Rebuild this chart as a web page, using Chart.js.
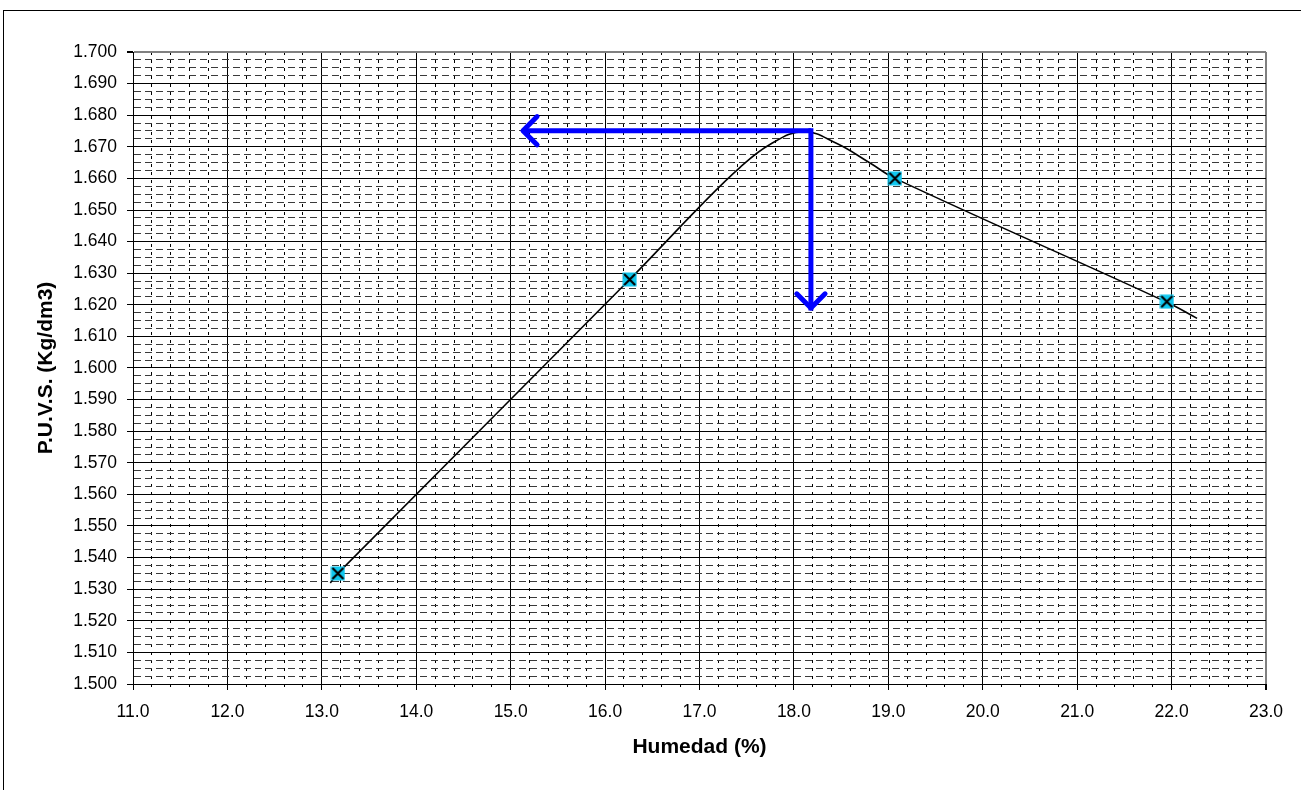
<!DOCTYPE html>
<html>
<head>
<meta charset="utf-8">
<title>Humedad vs P.U.V.S.</title>
<script src="https://cdn.jsdelivr.net/npm/chart.js@4.4.1/dist/chart.umd.min.js"></script>
<style>
  html, body { margin: 0; padding: 0; background: #fff; overflow: hidden; }
  #marco { position: absolute; left: 3px; top: 10px; width: 1400px; height: 900px; border: 1px solid #000; pointer-events: none; }
  #grafico { position: absolute; left: 0; top: 0; }
</style>
</head>
<body>
<div id="marco"></div>
<canvas id="grafico" width="1301" height="790"></canvas>
<script>
// puntos del ensayo
const humedad = [13.17, 16.26, 19.07, 21.95];
const puvs = [1.535, 1.628, 1.660, 1.621];

// curva de ajuste
const curvaHumedad = [13.09, 13.17, 16.26, 17.00, 17.43, 17.75, 18.10, 18.45, 18.81, 19.07, 21.95, 22.27];
const curvaPuvs = [1.532, 1.535, 1.628, 1.651, 1.6635, 1.6708, 1.6748, 1.6711, 1.6648, 1.660, 1.6208, 1.6157];

// flechas: humedad optima / densidad maxima
const humedadOptima = 18.18;
const puvsMaximo = 1.6751;
const flechaHumedadFin = 15.13;
const flechaPuvsFin = 1.619;

// ejes
const xRango = [11, 23];
const xPaso = 1;
const xPasoMenor = 0.2;
const yRango = [1.5, 1.7];
const yPaso = 0.01;
const yPasoMenor = 0.0025;

const familia = '"Liberation Sans", Arial, sans-serif';
const fuenteTicks = { family: familia, size: 17.5 };
const fuenteTitulo = { family: familia, size: 21, weight: 'bold' };

function esMayor(v, paso) {
    return Math.abs(v / paso - Math.round(v / paso)) < 1e-6;
}
function esBorde(v, max) {
    return Math.abs(v - max) < 1e-9;
}

function marcador() {
    const c = document.createElement('canvas');
    c.width = 15;
    c.height = 15;
    const g = c.getContext('2d');
    g.fillStyle = '#10C8F0';
    g.fillRect(0.5, 0.5, 14, 14);
    g.strokeStyle = '#000';
    g.lineWidth = 2.2;
    g.beginPath();
    g.moveTo(2, 2); g.lineTo(13, 13);
    g.moveTo(13, 2); g.lineTo(2, 13);
    g.stroke();
    return c;
}

const puntasFlecha = {
    id: 'puntasFlecha',
    afterDatasetsDraw(chart) {
        const ctx = chart.ctx;
        chart.data.datasets.forEach(function (ds, i) {
            if (!ds.flecha) return;
            const pts = chart.getDatasetMeta(i).data;
            const a = pts[pts.length - 2], b = pts[pts.length - 1];
            const ang = Math.atan2(b.y - a.y, b.x - a.x);
            const largo = 20;
            ctx.save();
            ctx.strokeStyle = ds.borderColor;
            ctx.lineWidth = 5;
            ctx.lineCap = 'round';
            ctx.beginPath();
            [-1, 1].forEach(function (s) {
                ctx.moveTo(b.x, b.y);
                ctx.lineTo(b.x - largo * Math.cos(ang + s * Math.PI / 4), b.y - largo * Math.sin(ang + s * Math.PI / 4));
            });
            ctx.stroke();
            ctx.restore();
        });
    }
};

document.addEventListener('DOMContentLoaded', function () {
    const ctx = document.getElementById('grafico');
    new Chart(ctx, {
        type: 'scatter',
        data: {
            datasets: [{
                label: 'Ensayo',
                data: humedad.map((h, i) => ({ x: h, y: puvs[i] })),
                pointStyle: marcador(),
                pointRadius: 7,
                showLine: false,
                order: 0
            }, {
                label: 'Curva',
                data: curvaHumedad.map((h, i) => ({ x: h, y: curvaPuvs[i] })),
                showLine: true,
                borderColor: '#000',
                borderWidth: 1.6,
                pointRadius: 0,
                tension: 0.4,
                order: 2
            }, {
                label: 'Flecha densidad',
                data: [{ x: humedadOptima, y: puvsMaximo }, { x: flechaHumedadFin, y: puvsMaximo }],
                showLine: true,
                borderColor: '#0000FF',
                borderWidth: 5,
                borderCapStyle: 'butt',
                pointRadius: 0,
                flecha: true,
                order: 1
            }, {
                label: 'Flecha humedad',
                data: [{ x: humedadOptima, y: puvsMaximo }, { x: humedadOptima, y: flechaPuvsFin }],
                showLine: true,
                borderColor: '#0000FF',
                borderWidth: 5,
                borderCapStyle: 'square',
                pointRadius: 0,
                flecha: true,
                order: 1
            }]
        },
        options: {
            responsive: false,
            animation: false,
            layout: { padding: { left: 0, right: 35, top: 52, bottom: 0 } },
            plugins: {
                legend: { display: false },
                tooltip: { enabled: false }
            },
            scales: {
                x: {
                    type: 'linear',
                    min: xRango[0],
                    max: xRango[1],
                    ticks: {
                        stepSize: xPasoMenor,
                        autoSkip: false,
                        maxRotation: 0,
                        padding: 11.5,
                        color: '#000',
                        font: fuenteTicks,
                        callback: v => esMayor(v, xPaso) ? v.toFixed(1) : ''
                    },
                    grid: {
                        color: c => (c.tick && esBorde(c.tick.value, xRango[1])) ? '#808080' : '#000',
                        lineWidth: c => (c.tick && esBorde(c.tick.value, xRango[1])) ? 2 : 1,
                        tickLength: 6,
                        tickColor: '#000',
                        tickBorderDash: c => (c.tick && !esMayor(c.tick.value, xPaso)) ? [2, 20] : []
                    },
                    border: {
                        color: '#000',
                        width: 1,
                        dash: c => (c.tick && !esMayor(c.tick.value, xPaso)) ? [3, 5] : []
                    },
                    title: {
                        display: true,
                        text: 'Humedad (%)',
                        color: '#000',
                        font: fuenteTitulo,
                        padding: { top: 0, bottom: 29.7 }
                    },
                    afterFit: s => { s.height = 106; }
                },
                y: {
                    type: 'linear',
                    min: yRango[0],
                    max: yRango[1],
                    ticks: {
                        stepSize: yPasoMenor,
                        autoSkip: false,
                        padding: 10,
                        color: '#000',
                        font: fuenteTicks,
                        callback: v => esMayor(v, yPaso) ? v.toFixed(3) : ''
                    },
                    grid: {
                        color: c => {
                            if (!c.tick) return '#000';
                            if (esBorde(c.tick.value, yRango[1])) return '#808080';
                            return esMayor(c.tick.value, yPaso) ? '#000' : '#3a3a3a';
                        },
                        lineWidth: c => (c.tick && esBorde(c.tick.value, yRango[1])) ? 2 : 1,
                        tickLength: 6,
                        tickColor: c => (c.tick && esMayor(c.tick.value, yPaso)) ? '#000' : 'rgba(0,0,0,0)'
                    },
                    border: {
                        color: '#000',
                        width: 1,
                        dash: c => (c.tick && !esMayor(c.tick.value, yPaso)) ? [7, 4] : []
                    },
                    title: {
                        display: true,
                        text: 'P.U.V.S. (Kg/dm3)',
                        color: '#000',
                        font: fuenteTitulo,
                        padding: { top: 33.4, bottom: 0 }
                    },
                    afterFit: s => { s.width = 133; }
                }
            }
        },
        plugins: [puntasFlecha]
    });
});
</script>
</body>
</html>
